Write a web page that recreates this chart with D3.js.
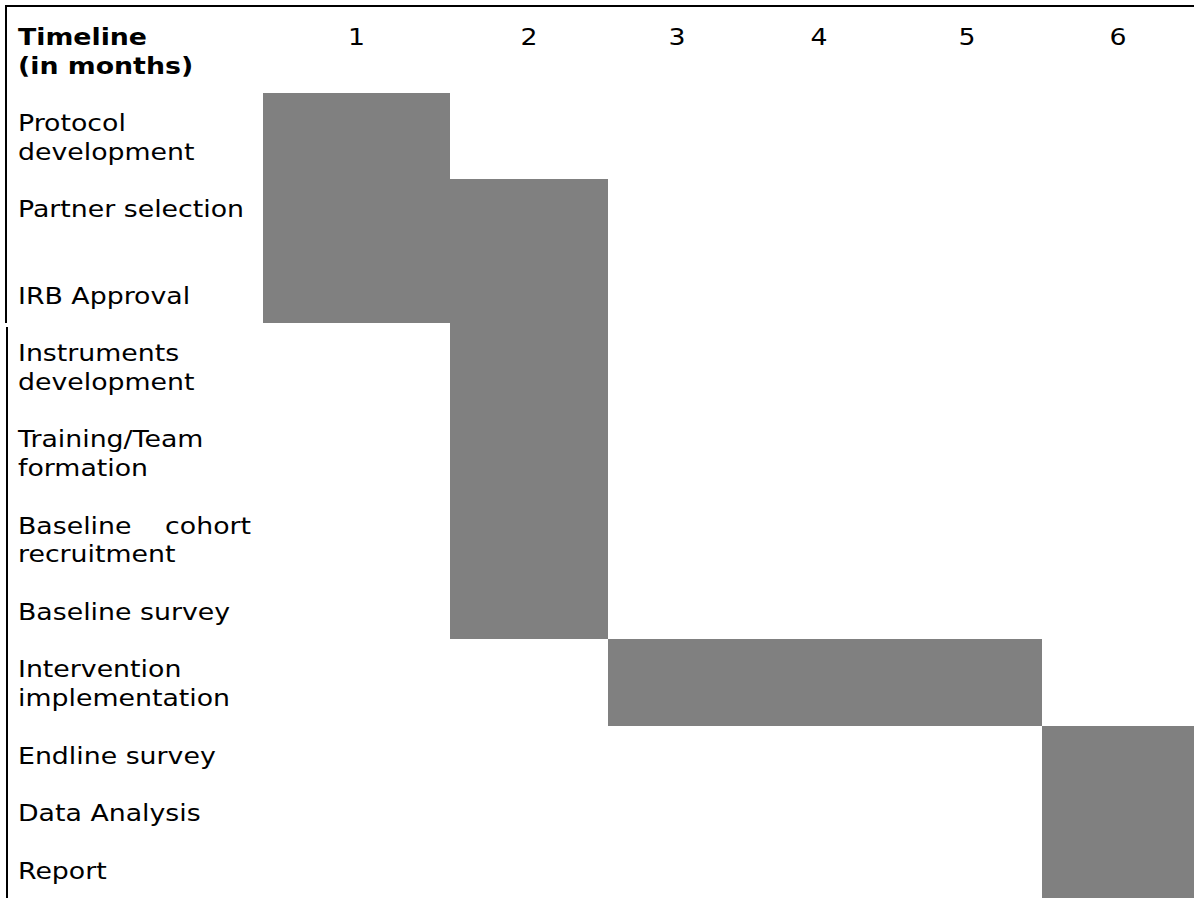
<!DOCTYPE html>
<html lang="en">
<head>
	<meta charset="UTF-8">
	<title>Timeline</title>
	<script src="https://cdnjs.cloudflare.com/ajax/libs/d3/7.8.5/d3.min.js"></script>
	<style>
		body { margin: 0; background: #fff; }
		svg { display: block; }
		text { font-family: "DejaVu Sans", Verdana, sans-serif; font-size: 22.5px; fill: #000; }
	</style>
</head>
<body>
<svg id="chart" width="1194" height="898"></svg>
<script>

	// header texts
	var headerLines = ["Timeline", "(in months)"];
	var months = ["1", "2", "3", "4", "5", "6"];

	// tasks, "\n" marks a line break in the table cell
	var tasks = [
		"Protocol\ndevelopment",
		"Partner selection\n",
		"IRB Approval",
		"Instruments\ndevelopment",
		"Training/Team\nformation",
		"Baseline cohort\nrecruitment",
		"Baseline survey",
		"Intervention\nimplementation",
		"Endline survey",
		"Data Analysis",
		"Report"
	];
	// first and last month shaded for each task
	var startMonth = [1, 1, 1, 2, 2, 2, 2, 3, 6, 6, 6];
	var endMonth   = [1, 2, 2, 2, 2, 2, 2, 5, 6, 6, 6];

	var svg = d3.select("#chart");
	var stretch = 1.19; // the original font (Verdana) runs wider than DejaVu

	// column boundaries (label column ends at 263)
	var x = d3.scaleLinear()
		.domain([0, 1, 2, 3, 4, 5, 6])
		.range([263, 450, 608, 746, 892, 1042, 1194]);

	// rows measured in text lines, each row = lines + 1 of padding
	var rows = [{lines: headerLines}];
	tasks.forEach(function (t, i) {
		rows.push({lines: t.split("\n"), start: startMonth[i], end: endMonth[i]});
	});
	var acc = 0;
	rows.forEach(function (r) {
		r.top = acc;
		acc += r.lines.length + 1;
		r.bottom = acc;
	});

	var y = d3.scaleLinear().domain([0, acc]).range([7, 898]);
	var unit = y(1) - y(0);

	function addText(str, tx, ty, anchor, bold) {
		var t = svg.append("text")
			.attr("transform", "translate(" + tx + "," + ty + ") scale(" + stretch + ",1)")
			.attr("text-anchor", anchor || "start")
			.text(str);
		if (bold) t.style("font-weight", "bold");
		return t;
	}

	// shaded cells
	svg.selectAll("rect.bar")
		.data(rows.slice(1))
		.enter()
		.append("rect")
		.attr("class", "bar")
		.attr("x", function (d) { return x(d.start - 1); })
		.attr("width", function (d) { return x(d.end) - x(d.start - 1); })
		.attr("y", function (d) { return y(d.top); })
		.attr("height", function (d) { return y(d.bottom) - y(d.top); })
		.attr("fill", "#808080")
		.attr("shape-rendering", "crispEdges");

	// borders
	svg.append("line")
		.attr("x1", 5).attr("y1", 6).attr("x2", 1194).attr("y2", 6)
		.attr("stroke", "#000").attr("stroke-width", 2);
	svg.append("line")
		.attr("x1", 6).attr("y1", 5).attr("x2", 6).attr("y2", 323)
		.attr("stroke", "#000").attr("stroke-width", 2);
	svg.append("line")
		.attr("x1", 7).attr("y1", 327).attr("x2", 7).attr("y2", 898)
		.attr("stroke", "#000").attr("stroke-width", 2);

	// header
	headerLines.forEach(function (h, i) {
		addText(h, 18, y(0) + 38 + i * unit, "start", true);
	});
	months.forEach(function (m, i) {
		addText(m, x(i + 0.5), y(0) + 38, "middle");
	});

	// task labels, justified lines like in the original table
	var textRight = 251;
	rows.slice(1).forEach(function (r) {
		r.lines.forEach(function (line, li) {
			if (!line) return;
			var ty = y(r.top) + 38 + li * unit;
			var words = line.split(" ");
			var last = li === r.lines.length - 1 || !r.lines[li + 1];
			if (!last && words.length > 1) {
				addText(words[0], 18, ty);
				addText(words.slice(1).join(" "), textRight, ty, "end");
			} else {
				addText(line, 18, ty);
			}
		});
	});

</script>
</body>
</html>
